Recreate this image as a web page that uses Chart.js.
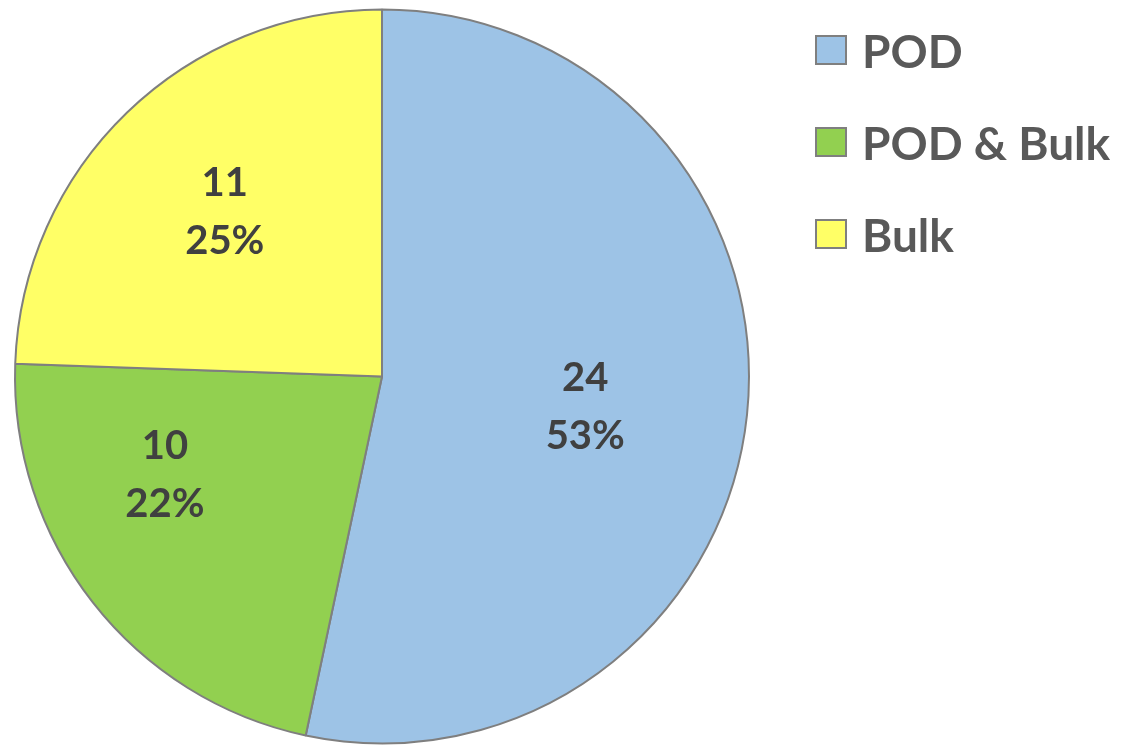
<!DOCTYPE html>
<html lang="en">
<head>
    <meta charset="UTF-8">
    <title>POD vs Bulk</title>
    <script src="https://cdn.jsdelivr.net/npm/chart.js"></script>
    <style>
        body {
            margin: 0;
            background-color: #FFFFFF;
        }
        .wrap {
            position: relative;
            width: 1124px;
            height: 747px;
        }
        .legend {
            position: absolute;
            left: 815px;
            top: 20px;
            font-family: Lato, "Open Sans", sans-serif;
            font-weight: 700;
            font-size: 46px;
            color: #595959;
        }
        .legend-item {
            display: flex;
            align-items: center;
            height: 60px;
            margin-bottom: 32px;
        }
        .legend-box {
            width: 28px;
            height: 26px;
            border: 2px solid #7F7F7F;
            margin-right: 15px;
        }
    </style>
</head>
<body>
    <div class="wrap">
        <canvas id="pieChart"></canvas>
        <div class="legend" id="legend"></div>
    </div>

    <script>
        const categories = ['POD', 'POD & Bulk', 'Bulk'];
        const counts = [24, 10, 11];
        const percentLabels = ['53%', '22%', '25%'];
        const colors = ['#9DC3E6', '#92D050', '#FFFF66'];

        // two-line value + percent labels inside each slice
        const sliceLabels = {
            id: 'sliceLabels',
            afterDatasetsDraw(chart, args, opts) {
                const ctx = chart.ctx;
                const arcs = chart.getDatasetMeta(0).data;
                ctx.save();
                ctx.font = 'bold 40px Lato, "Open Sans", sans-serif';
                ctx.fillStyle = '#404040';
                ctx.textAlign = 'center';
                ctx.textBaseline = 'middle';
                arcs.forEach((arc, i) => {
                    const a = opts.anchors[i];
                    const mid = (arc.startAngle + arc.endAngle) / 2 + a.turn * Math.PI / 180;
                    const r = arc.outerRadius * a.r;
                    const x = arc.x + Math.cos(mid) * r;
                    const y = arc.y + Math.sin(mid) * r;
                    ctx.fillText(String(counts[i]), x, y - 29);
                    ctx.fillText(percentLabels[i], x, y + 29);
                });
                ctx.restore();
            }
        };

        const ctx = document.getElementById('pieChart').getContext('2d');
        const pieChart = new Chart(ctx, {
            type: 'pie',
            data: {
                labels: categories,
                datasets: [{
                    data: counts,
                    backgroundColor: colors,
                    borderColor: '#7F7F7F',
                    borderWidth: 2,
                    hoverOffset: 0
                }]
            },
            options: {
                responsive: true,
                maintainAspectRatio: false,
                animation: false,
                layout: {
                    padding: { left: 14, top: 8, right: 374, bottom: 2 }
                },
                plugins: {
                    legend: { display: false },
                    tooltip: { enabled: false },
                    sliceLabels: {
                        anchors: [
                            { r: 0.56, turn: 2.5 },
                            { r: 0.65, turn: 13.5 },
                            { r: 0.62, turn: 0.3 }
                        ]
                    }
                }
            },
            plugins: [sliceLabels]
        });

        // html legend built from the same arrays
        const legendEl = document.getElementById('legend');
        categories.forEach((name, i) => {
            const item = document.createElement('div');
            item.className = 'legend-item';
            const box = document.createElement('span');
            box.className = 'legend-box';
            box.style.backgroundColor = colors[i];
            const label = document.createElement('span');
            label.textContent = name;
            item.appendChild(box);
            item.appendChild(label);
            legendEl.appendChild(item);
        });
    </script>
</body>
</html>
